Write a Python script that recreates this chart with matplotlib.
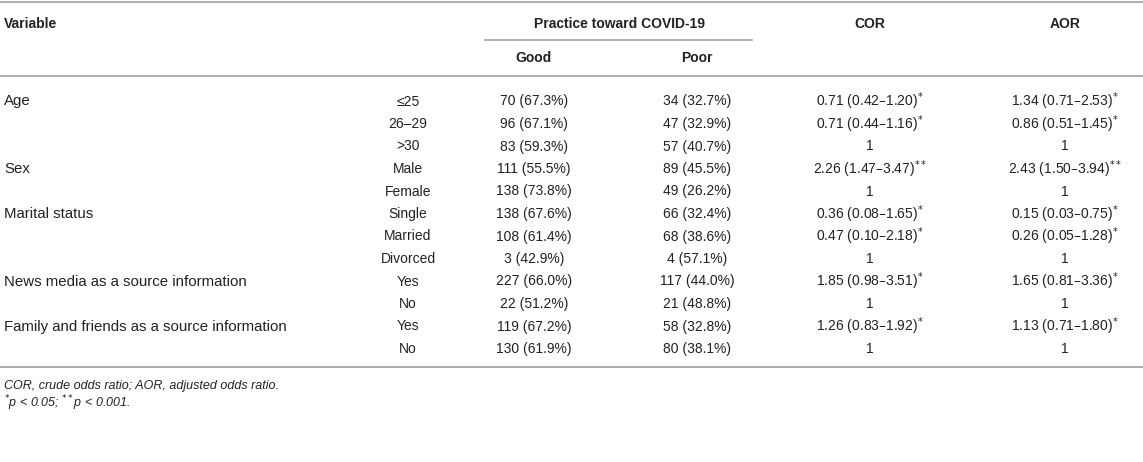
import matplotlib.pyplot as plt

plt.rcParams['font.family'] = ['Liberation Sans', 'DejaVu Sans']

variables = ['Age', '', '', 'Sex', '', 'Marital status', '', '',
             'News media as a source information', '',
             'Family and friends as a source information', '']
levels = ['\u226425', '26\u201329', '>30', 'Male', 'Female', 'Single', 'Married',
          'Divorced', 'Yes', 'No', 'Yes', 'No']
good = ['70 (67.3%)', '96 (67.1%)', '83 (59.3%)', '111 (55.5%)', '138 (73.8%)',
        '138 (67.6%)', '108 (61.4%)', '3 (42.9%)', '227 (66.0%)', '22 (51.2%)',
        '119 (67.2%)', '130 (61.9%)']
poor = ['34 (32.7%)', '47 (32.9%)', '57 (40.7%)', '89 (45.5%)', '49 (26.2%)',
        '66 (32.4%)', '68 (38.6%)', '4 (57.1%)', '117 (44.0%)', '21 (48.8%)',
        '58 (32.8%)', '80 (38.1%)']
cor = ['0.71 (0.42\u20131.20)*', '0.71 (0.44\u20131.16)*', '1',
       '2.26 (1.47\u20133.47)**', '1', '0.36 (0.08\u20131.65)*',
       '0.47 (0.10\u20132.18)*', '1', '1.85 (0.98\u20133.51)*', '1',
       '1.26 (0.83\u20131.92)*', '1']
aor = ['1.34 (0.71\u20132.53)*', '0.86 (0.51\u20131.45)*', '1',
       '2.43 (1.50\u20133.94)**', '1', '0.15 (0.03\u20130.75)*',
       '0.26 (0.05\u20131.28)*', '1', '1.65 (0.81\u20133.36)*', '1',
       '1.13 (0.71\u20131.80)*', '1']

W, H = 1143, 462
fig = plt.figure(figsize=(W / 100, H / 100), dpi=100)
ax = fig.add_axes([0, 0, 1, 1])
ax.set_xlim(0, W)
ax.set_ylim(H, 0)
ax.axis('off')

fs = 10
col = '#222222'
line_col = '#a0a0a0'


def star(s):
    # render trailing asterisks as superscript
    n = len(s) - len(s.rstrip('*'))
    if n:
        return s[:-n] + r'$^{' + '*' * n + '}$'
    return s


# rules
ax.plot([0, W], [2, 2], color=line_col, lw=1.2)
ax.plot([485, 752], [40, 40], color=line_col, lw=1.2)
ax.plot([0, W], [76, 76], color=line_col, lw=1.2)
ax.plot([0, W], [367, 367], color=line_col, lw=1.2)

# headers
ax.text(4, 24, 'Variable', fontsize=fs, fontweight='bold', color=col, va='center')
ax.text(619, 24, 'Practice toward COVID-19', fontsize=fs, fontweight='bold',
        color=col, va='center', ha='center')
ax.text(870, 24, 'COR', fontsize=fs, fontweight='bold', color=col, va='center', ha='center')
ax.text(1065, 24, 'AOR', fontsize=fs, fontweight='bold', color=col, va='center', ha='center')
ax.text(534, 58, 'Good', fontsize=fs, fontweight='bold', color=col, va='center', ha='center')
ax.text(697, 58, 'Poor', fontsize=fs, fontweight='bold', color=col, va='center', ha='center')

y0, dy = 101.5, 22.5
for i in range(len(levels)):
    y = y0 + i * dy
    ax.text(4, y, variables[i], fontsize=10.8, color=col, va='center')
    ax.text(408, y, levels[i], fontsize=fs, color=col, va='center', ha='center')
    ax.text(534, y, good[i], fontsize=fs, color=col, va='center', ha='center')
    ax.text(697, y, poor[i], fontsize=fs, color=col, va='center', ha='center')
    ax.text(870, y, star(cor[i]), fontsize=fs, color=col, va='center', ha='center')
    ax.text(1065, y, star(aor[i]), fontsize=fs, color=col, va='center', ha='center')

ax.text(4, 386, 'COR, crude odds ratio; AOR, adjusted odds ratio.', fontsize=9,
        style='italic', color=col, va='center')
ax.text(4, 403, r'$^{*}$p < 0.05; $^{**}$p < 0.001.', fontsize=9,
        style='italic', color=col, va='center')

fig.savefig('out.png', dpi=100)
